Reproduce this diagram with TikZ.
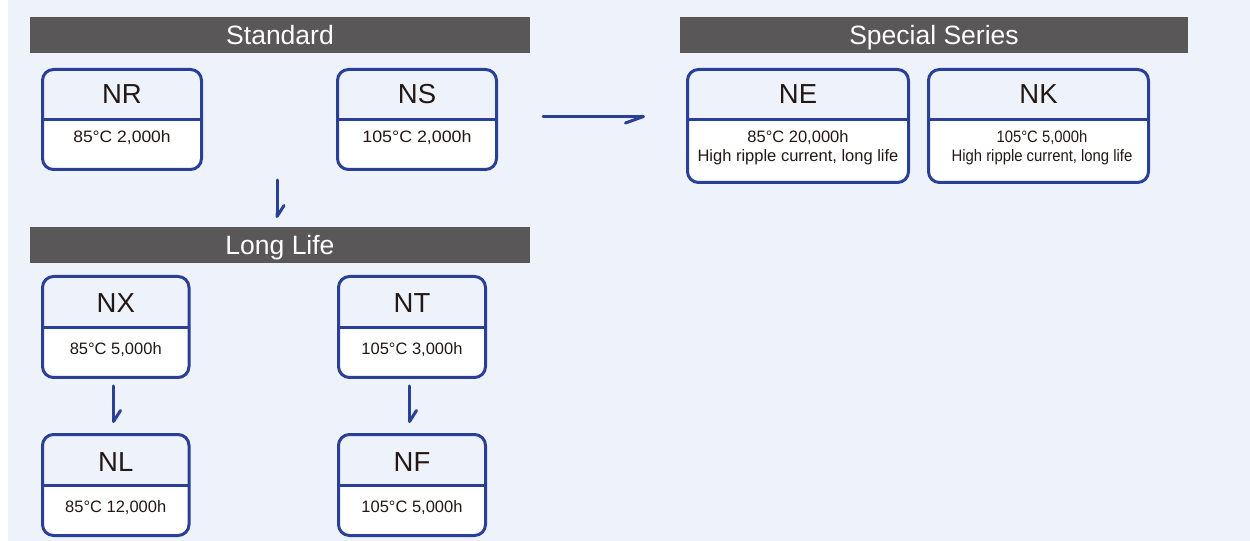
\documentclass[tikz,border=0pt]{standalone}
\usepackage{fontspec}
\setmainfont{Liberation Sans}
\usetikzlibrary{arrows.meta}
\definecolor{bg}{RGB}{238,243,251}
\definecolor{hdr}{RGB}{89,87,87}
\definecolor{bord}{RGB}{42,64,150}
\definecolor{txt}{RGB}{35,24,21}
\tikzset{
  header/.style={fill=hdr, draw=none, inner sep=0pt, outer sep=0pt},
  hdrtext/.style={text=white, font=\fontsize{26.5bp}{30bp}\selectfont, anchor=base, inner sep=0pt},
  boxframe/.style={draw=bord, line width=3bp, rounded corners=11bp, inner sep=0pt, outer sep=0pt},
  divline/.style={draw=bord, line width=3bp},
  titletext/.style={text=txt, font=\fontsize{27.5bp}{32bp}\selectfont, anchor=base, inner sep=0pt},
  subtext/.style={text=txt, font=\fontsize{16.5bp}{19bp}\selectfont, anchor=base, inner sep=0pt},
  flow/.style={draw=bord, line width=3bp, line cap=round},
  harpright/.style={-{Straight Barb[harpoon,swap,length=18bp,width=13bp,round]}},
  harpdown/.style={-{Straight Barb[harpoon,length=11bp,width=14bp,round]}},
}
% #1 name, #2 x1, #3 y1, #4 x2, #5 y2, #6 y of divider
\newcommand\serbox[6]{%
  \begin{scope}
    \clip (#2-5,#6) rectangle (#4+5,#5+5);
    \fill[white, rounded corners=11bp] (#2,#3) rectangle (#4,#5);
  \end{scope}
  \node[boxframe, minimum width={(#4-#2)*1bp}, minimum height={(#5-#3)*1bp}] (#1) at ({(#2+#4)/2},{(#3+#5)/2}) {};
  \draw[divline] (#2,#6) -- (#4,#6);
}
\begin{document}
\begin{tikzpicture}[x=1bp,y=-1bp]
\useasboundingbox (0,0) rectangle (1250,541);
\fill[bg] (8,0) rectangle (1250,541);

% headers
\node[header, minimum width=500bp, minimum height=36bp] (stdh) at (280,35) {};
\node[hdrtext] (stdt) at (280,45) {Standard};
\node[header, minimum width=508bp, minimum height=36bp] (sph) at (934,35) {};
\node[hdrtext] (spt) at (934,45) {Special Series};
\node[header, minimum width=500bp, minimum height=36bp] (llh) at (280,245) {};
\node[hdrtext] (llt) at (280,255) {Long Life};

% boxes
\serbox{NR}{42.5}{69.5}{201.5}{169.5}{120}
\serbox{NS}{337.5}{69.5}{496.5}{169.5}{120}
\serbox{NE}{687.5}{69.5}{908.5}{182.5}{120}
\serbox{NK}{928.5}{69.5}{1148.5}{182.5}{120}
\serbox{NX}{42.5}{276.5}{189}{377.5}{328}
\serbox{NT}{338.5}{276.5}{485.5}{377.5}{328}
\serbox{NL}{42.5}{434.5}{189}{535.5}{485}
\serbox{NF}{338.5}{434.5}{485.5}{535.5}{485}

% texts
\node[titletext] (NRt) at (122,104) {NR};
\node[subtext] (NRs) at (122,143) {\scalebox{1.06}[1]{85°C 2,000h}};
\node[titletext] (NSt) at (417,104) {NS};
\node[subtext] (NSs) at (417,143) {\scalebox{1.08}[1]{105°C 2,000h}};
\node[titletext] (NEt) at (798,104) {NE};
\node[subtext] (NEs1) at (798,142.7) {85°C 20,000h};
\node[subtext] (NEs2) at (798,161.7) {High ripple current, long life};
\node[titletext] (NKt) at (1038.5,104) {NK};
\node[subtext] (NKs1) at (1042,142.7) {\scalebox{0.9}[1]{105°C 5,000h}};
\node[subtext] (NKs2) at (1042,161.7) {\scalebox{0.9}[1]{High ripple current, long life}};
\node[titletext] (NXt) at (115.75,313) {NX};
\node[subtext] (NXs) at (115.75,355) {85°C 5,000h};
\node[titletext] (NTt) at (412,313) {NT};
\node[subtext] (NTs) at (412,355) {105°C 3,000h};
\node[titletext] (NLt) at (115.75,471) {NL};
\node[subtext] (NLs) at (115.75,512) {85°C 12,000h};
\node[titletext] (NFt) at (412,471) {NF};
\node[subtext] (NFs) at (412,512) {105°C 5,000h};

% connectors
\coordinate (a1s) at (543,116.5);
\coordinate (a1e) at (645,116.5);
\coordinate (a2s) at (277,180);
\coordinate (a2e) at (277,218);
\coordinate (a3s) at (113.5,386);
\coordinate (a3e) at (113.5,423);
\coordinate (a4s) at (409.5,386);
\coordinate (a4e) at (409.5,423);
\draw[flow, harpright] (a1s) -- (a1e);
\draw[flow, harpdown] (a2s) -- (a2e);
\draw[flow, harpdown] (a3s) -- (a3e);
\draw[flow, harpdown] (a4s) -- (a4e);
\end{tikzpicture}
\end{document}
